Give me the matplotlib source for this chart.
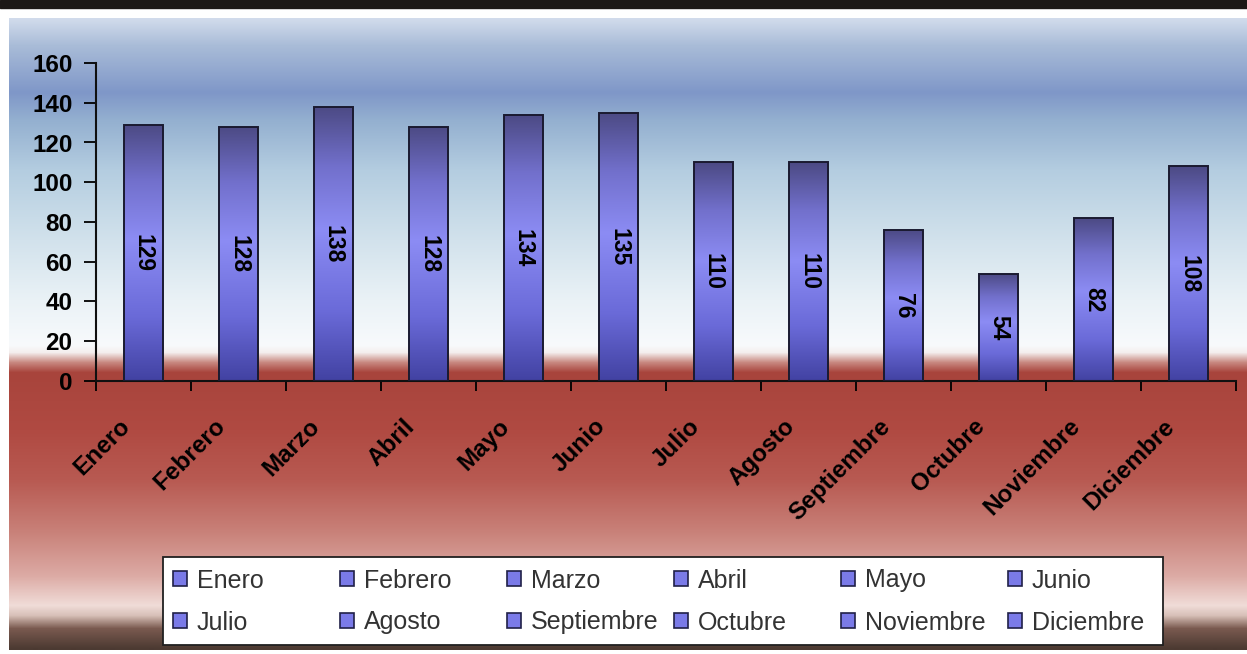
import numpy as np
import matplotlib
matplotlib.use("Agg")
import matplotlib.pyplot as plt
from matplotlib.colors import LinearSegmentedColormap, to_rgb
from matplotlib.patches import Rectangle, Patch
from matplotlib.transforms import ScaledTranslation

MESES = ["Enero", "Febrero", "Marzo", "Abril", "Mayo", "Junio",
         "Julio", "Agosto", "Septiembre", "Octubre", "Noviembre", "Diciembre"]
VALORES = [129, 128, 138, 128, 134, 135, 110, 110, 76, 54, 82, 108]
Y_TICKS = [0, 20, 40, 60, 80, 100, 120, 140, 160]

W, H = 1247, 654
FONT = "Liberation Sans"

# background colour stops (pixel row, colour)
BG_STOPS = [(18, "#d2dcec"), (45, "#a9bcd8"), (92, "#7f97c8"), (120, "#94b0d0"),
            (170, "#b4cde0"), (240, "#d2e2ec"), (300, "#eaf2f6"), (345, "#f8fafc"),
            (352, "#f4eeee"), (362, "#c88880"), (372, "#a8443c"), (430, "#b04a42"),
            (480, "#b85a52"), (530, "#c88078"), (575, "#dcaaa4"), (605, "#f0dcd8"),
            (615, "#d8c0b8"), (628, "#7a5a50"), (648, "#4c3a32")]

BAR_CMAP = LinearSegmentedColormap.from_list("barra", [
    (0.0, "#4242a2"), (0.25, "#6a6ad8"), (0.55, "#8c8cf4"),
    (0.78, "#7270cc"), (1.0, "#4c4a84")])

fig = plt.figure(figsize=(W / 100, H / 100), dpi=100)

# ---- fondo degradado ----
bg = fig.add_axes([0, 0, 1, 1], zorder=0)
bg.set_xlim(0, W); bg.set_ylim(H, 0); bg.axis("off")
rows = np.arange(18, 650)
ys = [s[0] for s in BG_STOPS]
cols = np.array([to_rgb(s[1]) for s in BG_STOPS])
grad = np.stack([np.interp(rows, ys, cols[:, k]) for k in range(3)], axis=-1)[:, None, :]
bg.imshow(grad, extent=[9, W, 650, 18], aspect="auto", interpolation="bilinear")
bg.add_patch(Rectangle((0, 0), W, 8, color="#1c1816"))
bg.set_xlim(0, W); bg.set_ylim(H, 0)

# ---- grafico ----
ax = fig.add_axes([96 / W, 1 - 381 / H, 1140 / W, 318 / H], zorder=2)
ax.set_facecolor("none")
x = np.arange(len(MESES))
bars = ax.bar(x, VALORES, width=0.41, facecolor="none", edgecolor="#1a1a30",
              linewidth=1.4, zorder=3)
g = np.linspace(0, 1, 256)[:, None]
for b in bars:
    im = ax.imshow(g, cmap=BAR_CMAP, origin="lower", aspect="auto", zorder=2,
                   extent=[b.get_x(), b.get_x() + b.get_width(), 0, b.get_height()])
    im.set_clip_path(b)
for xi, v in zip(x, VALORES):
    ax.text(xi, v / 2, str(v), rotation=270, ha="center", va="center",
            fontsize=16.5, fontweight="bold", family=FONT, color="black", zorder=4)

ax.set_xlim(-0.5, 11.5)
ax.set_ylim(0, 160)
ax.set_yticks(Y_TICKS)
ax.set_xticks(x)
ax.set_xticklabels(MESES, rotation=45, ha="right", va="center", rotation_mode="anchor",
                   fontsize=17.5, fontweight="bold", family=FONT)
ax.set_xticks(np.arange(-0.5, 12, 1), minor=True)
ax.tick_params(axis="x", which="major", length=0, pad=30)
ax.tick_params(axis="x", which="minor", length=7, width=1.3, direction="out")
ax.tick_params(axis="y", length=9, width=1.3, direction="out", pad=8)
for lab in ax.get_yticklabels():
    lab.set_fontsize(17.5); lab.set_fontweight("bold"); lab.set_family(FONT)
off = ScaledTranslation(-17 / 100, 0, fig.dpi_scale_trans)
for lab in ax.get_xticklabels():
    lab.set_transform(lab.get_transform() + off)
for s in ("top", "right"):
    ax.spines[s].set_visible(False)
for s in ("left", "bottom"):
    ax.spines[s].set_linewidth(1.5)
    ax.spines[s].set_color("#101010")

# ---- leyenda: 6 columnas de paso uniforme ----
fig.add_artist(Rectangle((163 / W, 1 - 645 / H), 1000 / W, 88 / H, transform=fig.transFigure,
                         facecolor="white", edgecolor="#202020", linewidth=1.3, zorder=3))
col_x = [173, 340, 507, 674, 841, 1008]
for c in range(6):
    handles = [Patch(facecolor="#7a7ae8", edgecolor="#202048", linewidth=1.2) for _ in range(2)]
    leg = fig.legend(handles, [MESES[c], MESES[c + 6]], loc="center left",
                     bbox_to_anchor=(col_x[c] / W, 1 - 601.5 / H), frameon=False,
                     borderpad=0, borderaxespad=0, handlelength=0.55, handleheight=0.55,
                     handletextpad=0.4, labelspacing=0.72,
                     prop={"family": FONT, "size": 18})
    leg.set_zorder(5)
    for t in leg.get_texts():
        t.set_color("#333333")

fig.savefig("out.png", dpi=100)
